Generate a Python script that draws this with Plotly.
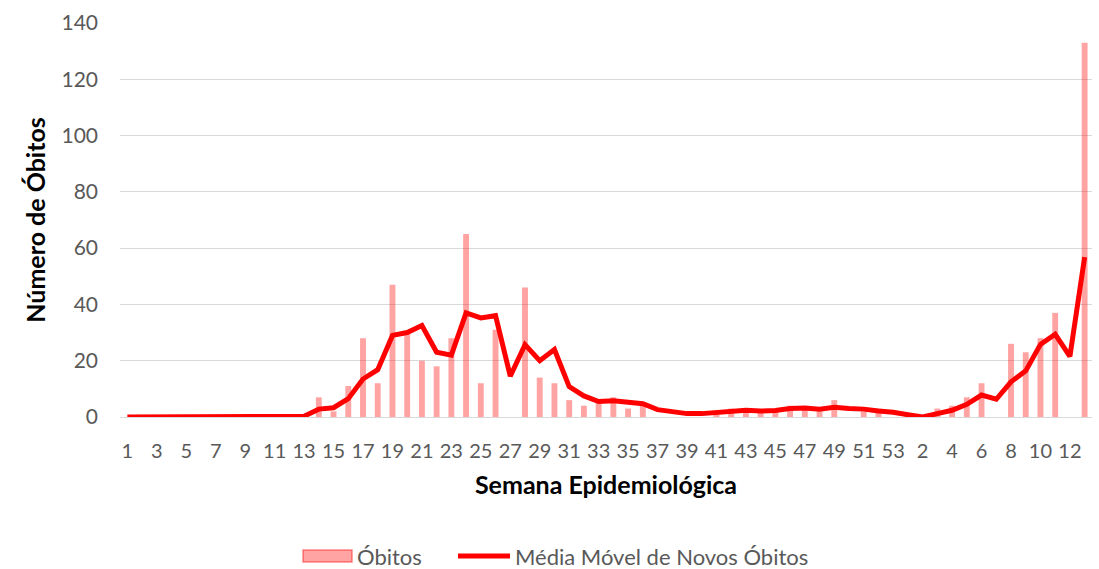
import plotly.graph_objects as go

# Epidemiological weeks: year 1 (1..53) followed by year 2 (1..13)
weeks = list(range(1, 54)) + list(range(1, 14))

obitos = [0, 0, 0, 0, 0, 0, 0, 0, 0, 0, 0, 0, 0,
          7, 2, 11, 28, 12, 47, 30, 20, 18, 28, 65, 12, 31, 0,
          46, 14, 12, 6, 4, 5, 7, 3, 4, 0, 0, 0, 0, 1,
          3, 2, 2, 2, 4, 3, 2, 6, 0, 2, 3, 0,
          0, 0, 3, 4, 7, 12, 0, 26, 23, 28, 37, 0, 133]

media_movel = [0, 0, 0, 0, 0, 0, 0, 0, 0, 0, 0, 0, 0.3,
               2.8, 3.3, 6.5, 13.5, 16.8, 29, 30, 32.5, 23, 22, 37, 35.2, 36, 14.5,
               25.7, 20, 24, 10.8, 7.5, 5.5, 5.8, 5.4, 4.7, 2.6, 1.8, 1.2, 1.2, 1.5,
               1.9, 2.4, 2.1, 2.3, 3, 3.2, 2.8, 3.5, 3, 2.8, 2.1, 1.7,
               0.8, 0, 1.2, 2.4, 4.5, 7.8, 6.3, 12.5, 16.4, 25.8, 29.4, 21.5, 56.8]

series_names = ["Óbitos", "Média Móvel de Novos Óbitos"]

x_pos = list(range(len(weeks)))
tick_vals = x_pos[::2]
tick_text = [str(w) for w in weeks[::2]]

FONT = "Lato, 'Open Sans', sans-serif"
GRAY = "#595959"
BAR_FILL = "rgba(255,0,0,0.36)"
BAR_EDGE = "rgba(255,40,40,0.55)"
LINE_RED = "#FF0000"

W, H = 1099, 569
ML, MR, MT, MB = 120, 7, 23, 152
PW, PH = W - ML - MR, H - MT - MB


def px2paper(px, py):
    return (px - ML) / PW, (H - MB - py) / PH


fig = go.Figure()
fig.add_trace(go.Bar(
    x=x_pos, y=obitos, name=series_names[0],
    marker=dict(color=BAR_FILL, line=dict(width=0)),
    width=0.4,
))
fig.add_trace(go.Scatter(
    x=x_pos, y=media_movel, name=series_names[1],
    mode="lines", line=dict(color=LINE_RED, width=5),
))

# Legend drawn at the bottom like the original (wide swatches)
legend_y = 556
rx0, ry0 = px2paper(303, legend_y - 6)
rx1, ry1 = px2paper(352, legend_y + 6)
lx0, ly = px2paper(458, legend_y)
lx1, _ = px2paper(510, legend_y)
tx0, ty = px2paper(356, legend_y)
tx1, _ = px2paper(514, legend_y)

fig.add_shape(type="rect", xref="paper", yref="paper", x0=rx0, x1=rx1, y0=ry1, y1=ry0,
              fillcolor=BAR_FILL, line=dict(color=BAR_EDGE, width=1.5))
fig.add_shape(type="line", xref="paper", yref="paper", x0=lx0, x1=lx1, y0=ly, y1=ly,
              line=dict(color=LINE_RED, width=5))
fig.add_annotation(text=series_names[0], xref="paper", yref="paper", x=tx0, y=ty,
                   xanchor="left", yanchor="middle", showarrow=False, borderpad=0,
                   font=dict(size=22, color=GRAY, family=FONT))
fig.add_annotation(text=series_names[1], xref="paper", yref="paper", x=tx1, y=ty,
                   xanchor="left", yanchor="middle", showarrow=False, borderpad=0,
                   font=dict(size=22, color=GRAY, family=FONT))

fig.update_layout(
    width=W, height=H,
    margin=dict(l=ML, r=MR, t=MT, b=MB, autoexpand=False),
    plot_bgcolor="white", paper_bgcolor="white",
    font=dict(family=FONT, color=GRAY, size=20),
    showlegend=False,
)
fig.update_xaxes(
    automargin=False,
    range=[-0.5, len(weeks) - 0.5],
    tickmode="array", tickvals=tick_vals, ticktext=tick_text,
    tickfont=dict(size=20, color=GRAY), showgrid=False, showline=False, zeroline=False,
    ticks="", ticklabelstandoff=20,
    title=dict(text="<b>Semana Epidemiológica</b>", font=dict(size=25, color="black"), standoff=15),
)
fig.update_yaxes(
    automargin=False,
    range=[0, 140], dtick=20,
    tickfont=dict(size=21, color=GRAY), showgrid=True, gridcolor="#D9D9D9", gridwidth=1,
    zeroline=True, zerolinecolor="#D9D9D9", zerolinewidth=1, showline=False, ticks="",
    ticklabelstandoff=21,
    title=dict(text="<b>Número de Óbitos</b>", font=dict(size=25, color="black"), standoff=8),
)

fig.write_html("out.html", config={"displayModeBar": False},
               post_script="document.body.style.margin='0';")
